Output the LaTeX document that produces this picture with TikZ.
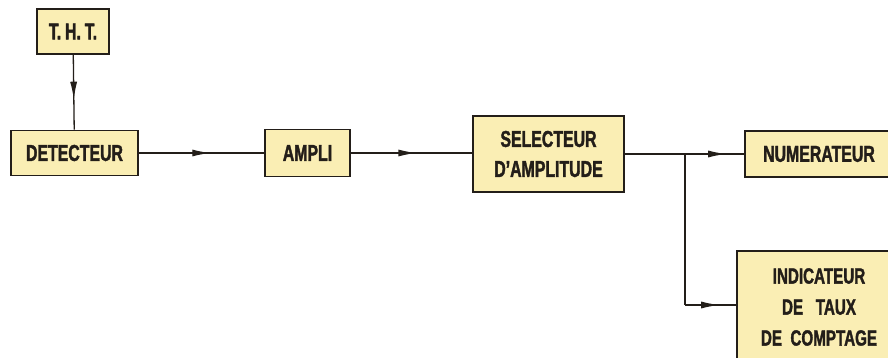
\documentclass[tikz,border=0pt]{standalone}
\usepackage{fontspec}
\setmainfont[FakeStretch=0.69, BoldFeatures={FakeBold=1.6}]{Liberation Sans}
\usetikzlibrary{arrows.meta,decorations.markings}
\definecolor{boxfill}{RGB}{250,238,180}
\definecolor{ink}{RGB}{35,30,25}
\tikzset{
  blk/.style={draw=ink, line width=1.8pt, fill=boxfill, inner sep=0pt, align=center,
    font=\fontsize{23}{30}\selectfont\bfseries, text=ink},
  conn/.style={draw=ink, line width=1.3pt},
  midarr/.style={conn, postaction={decorate}, decoration={markings,
    mark=at position #1 with {\arrow{Latex[length=18pt,width=7pt]}}}}
}
\begin{document}
\begin{tikzpicture}[x=1pt,y=-1pt]
\clip (0,0) rectangle (888,358);
\fill[white] (0,0) rectangle (888,358);
\node[blk, minimum width=72pt, minimum height=45pt] (tht) at (73,31.5) {T.\,H.\,T.};
\node[blk, minimum width=127pt, minimum height=45pt] (det) at (74.5,153) {DETECTEUR};
\node[blk, minimum width=85pt, minimum height=47pt] (amp) at (307.5,153) {AMPLI};
\node[blk, minimum width=151pt, minimum height=76pt] (sel) at (548.5,154) {SELECTEUR\\D'AMPLITUDE};
\node[blk, minimum width=148pt, minimum height=46pt] (num) at (819,154) {NUMERATEUR};
\node[blk, minimum width=164pt, minimum height=112pt, font=\fontsize{22}{31}\selectfont\bfseries] (ind) at (819,307) {INDICATEUR\\DE\ \ \ TAUX\\DE\ \ COMPTAGE};
\draw[midarr=0.6] (tht) -- (det);
\draw[midarr=0.57] (det) -- (amp);
\draw[midarr=0.54] (amp.east) -- (amp.east -| sel.west);
\draw[midarr=0.85] (sel.east) -- (num.west |- sel.east);
\coordinate (j1) at (685,154);
\coordinate (j2) at (685,305);
\draw[conn] (j1) -- (j2);
\draw[midarr=0.67] (j2) -- (ind.west |- j2);
\end{tikzpicture}
\end{document}
